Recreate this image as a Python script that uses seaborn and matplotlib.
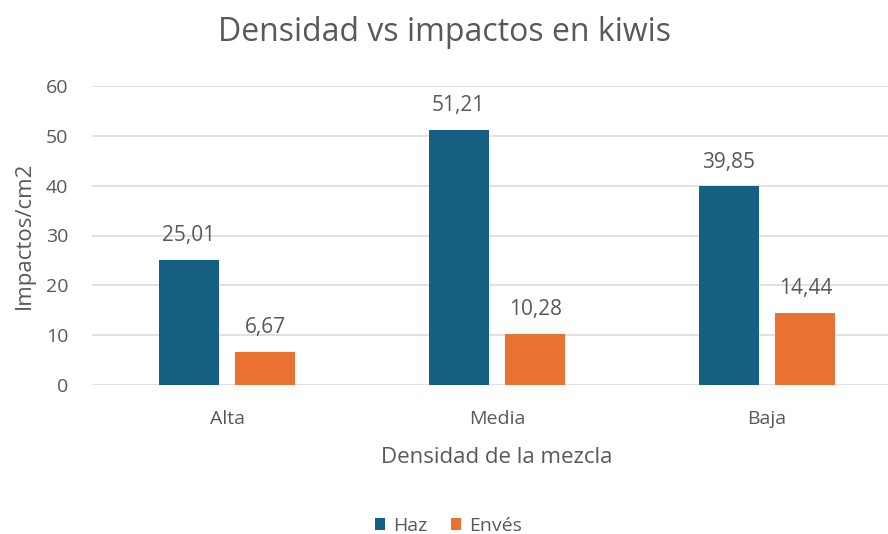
import matplotlib
matplotlib.use("Agg")
import matplotlib.pyplot as plt
import seaborn as sns
import pandas as pd

densidades = ["Alta", "Media", "Baja"]
haz = [25.01, 51.21, 39.85]
enves = [6.67, 10.28, 14.44]
series = ["Haz", "Envés"]
colores = ["#156082", "#E97132"]

sns.set_theme(style="white")
plt.rcParams['font.family'] = ['Open Sans', 'DejaVu Sans']
gris = "#595959"

df = pd.DataFrame({
    "densidad": densidades * 2,
    "impactos": haz + enves,
    "cara": [series[0]] * 3 + [series[1]] * 3,
})

fig = plt.figure(figsize=(8.88, 5.34), dpi=100)
ax = fig.add_axes([92 / 888, 1 - 385 / 534, (902 - 92) / 888, (385 - 86) / 534])

sns.barplot(data=df, x="densidad", y="impactos", hue="cara", palette=colores,
            width=0.57, gap=0.22, ax=ax, saturation=1, legend=True, linewidth=0)

for cont in ax.containers:
    vals = [b.get_height() for b in cont]
    ax.bar_label(cont, labels=[f"{v:.2f}".replace(".", ",") for v in vals],
                 padding=10, fontsize=15, color=gris)

ax.set_ylim(0, 60)
ax.set_xlim(-0.5, 2.5)
ax.set_yticks(range(0, 61, 10))
ax.yaxis.grid(True, color="#D9D9D9", linewidth=1.1)
ax.set_axisbelow(True)
for s in ax.spines.values():
    s.set_visible(False)
ax.tick_params(axis="both", length=0, labelsize=14, colors=gris)
ax.tick_params(axis="y", pad=17)
ax.tick_params(axis="x", pad=18)

ax.set_xlabel("Densidad de la mezcla", fontsize=16, color=gris, labelpad=14)
ax.set_ylabel("Impactos/cm2", fontsize=16, color=gris, labelpad=8)
fig.suptitle("Densidad vs impactos en kiwis", fontsize=23, color=gris, y=0.97)

ax.get_legend().remove()
handles, labels = ax.get_legend_handles_labels()
fig.legend(handles, labels, loc="center", bbox_to_anchor=(0.505, 0.015), ncol=2,
           frameon=False, fontsize=14, labelcolor=gris, handlelength=0.55,
           handleheight=0.55, handletextpad=0.4, columnspacing=1.2)

fig.savefig("out.png", dpi=100)
